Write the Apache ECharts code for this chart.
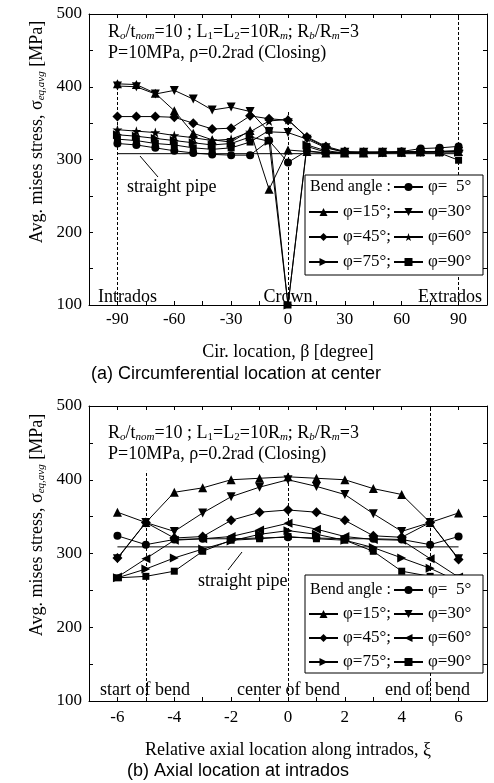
<!DOCTYPE html>
<html>
<head>
<meta charset="utf-8">
<script src="https://cdn.jsdelivr.net/npm/echarts@6/dist/echarts.min.js"></script>
<style>
html,body{margin:0;padding:0;background:#fff;}
#chart{width:494px;height:783px;}
</style>
</head>
<body>
<div id="chart"></div>
<script>
// (a) circumferential location at center
var betaDeg = [-90,-80,-70,-60,-50,-40,-30,-20,-10,0,10,20,30,40,50,60,70,80,90];
var a5  = [322,320,316,312,309,307,306,306,326,296,312,309,309,310,310,311,315,316,318];
var a15 = [404,403,391,367,336,327,324,340,259,313,311,309,309,309,310,310,311,311,311];
var a30 = [401,400,390,395,383,368,372,366,338,337,328,316,310,310,310,310,310,311,311];
var a45 = [359,359,359,358,350,342,343,360,356,354,331,318,311,310,310,310,311,311,312];
var a60 = [341,339,337,333,330,326,328,338,353,355,330,317,310,310,310,310,311,311,312];
var a75 = [334,332,329,326,323,320,322,331,325,100,320,312,309,309,309,310,310,310,310];
var a90 = [328,326,322,320,316,314,316,324,340,100,318,310,309,309,309,309,309,309,299];
var aPipeX = [-90,90];
var aPipe = [308,308];

// (b) axial location at intrados
var xi  = [-6,-5,-4,-3,-2,-1,0,1,2,3,4,5,6];
var b5  = [324,312,319,320,320,321,322,321,320,320,319,312,323];
var b15 = [356,342,383,389,400,402,404,402,400,388,380,342,355];
var b30 = [293,342,330,355,377,390,400,391,380,354,330,342,293];
var b45 = [294,342,321,323,345,356,359,356,345,324,322,342,292];
var b60 = [268,293,318,320,323,332,341,333,323,319,318,293,268];
var b75 = [267,279,294,306,317,326,331,326,318,308,294,280,262];
var b90 = [267,269,276,303,318,320,323,320,318,303,276,269,267];
var bPipeX = [-6,6];
var bPipe = [309,309];

var serif = 'Liberation Serif, Times New Roman, serif';
var sans = 'Liberation Sans, Arial, sans-serif';

var symDown = 'path://M0,0L10,0L5,9Z';
var symRight = 'path://M0,0L9,5L0,10Z';
var symLeft = 'path://M9,0L0,5L9,10Z';
var symStar = 'path://M5,0L6.2,3.6L10,3.6L6.9,5.9L8.1,9.5L5,7.3L1.9,9.5L3.1,5.9L0,3.6L3.8,3.6Z';

var names = {
  a5:'φ=  5°', a15:'φ=15°;', a30:'φ=30°', a45:'φ=45°;', a60:'φ=60°', a75:'φ=75°;', a90:'φ=90°',
  b5:'φ=  5°', b15:'φ=15°;', b30:'φ=30°', b45:'φ=45°;', b60:'φ=60°', b75:'φ=75°;', b90:'φ=90°'
};

function pairs(xs, ys){
  var out = [];
  for (var i = 0; i < xs.length; i++) out.push([xs[i], ys[i]]);
  return out;
}
function mk(name, xs, ys, sym, ax, size){
  return {
    name: name, type: 'line', xAxisIndex: ax, yAxisIndex: ax,
    data: pairs(xs, ys), symbol: sym, symbolSize: size || 8,
    lineStyle: {color: '#000', width: 1}, itemStyle: {color: '#000'},
    emphasis: {disabled: true}, z: 3
  };
}
function vline(x, y0, y1){
  return [{coord: [x, y0]}, {coord: [x, y1]}];
}
function pipe(xs, ys, ax, lines){
  return {
    name: 'pipe' + ax, type: 'line', xAxisIndex: ax, yAxisIndex: ax,
    data: pairs(xs, ys), symbol: 'none', lineStyle: {color: '#000', width: 1},
    z: 3, silent: true,
    markLine: {silent: true, symbol: ['none','none'], label: {show: false},
      lineStyle: {color: '#000', width: 1, type: [3,2]}, data: lines}
  };
}

function xAx(grid, min, max, step, labStep, name, margin, gap){
  return {
    type: 'value', gridIndex: grid, min: min, max: max, interval: step, position: 'bottom',
    axisLine: {onZero: false, lineStyle: {color: '#000', width: 1}},
    axisTick: {inside: true, length: 4, lineStyle: {color: '#000'}},
    axisLabel: {color: '#000', fontFamily: serif, fontSize: 17, margin: margin,
      formatter: function(v){ return (v % labStep === 0 && v > min && v < max) ? String(v) : ''; }},
    splitLine: {show: false},
    name: name, nameLocation: 'middle', nameGap: gap,
    nameTextStyle: {color: '#000', fontFamily: serif, fontSize: 18}
  };
}
function xTop(grid, min, max, step){
  return {
    type: 'value', gridIndex: grid, min: min, max: max, interval: step, position: 'top',
    axisLine: {onZero: false, lineStyle: {color: '#000', width: 1}},
    axisTick: {inside: true, length: 4, lineStyle: {color: '#000'}},
    axisLabel: {show: false}, splitLine: {show: false}
  };
}
function yAx(grid, pos, withLabels){
  return {
    type: 'value', gridIndex: grid, min: 100, max: 500, interval: 50, position: pos,
    axisLine: {show: true, onZero: false, lineStyle: {color: '#000', width: 1}},
    axisTick: {show: true, inside: true, length: 4, lineStyle: {color: '#000'}},
    axisLabel: {show: withLabels, color: '#000', fontFamily: serif, fontSize: 17, margin: 7,
      formatter: function(v){ return v % 100 === 0 ? String(v) : ''; }},
    splitLine: {show: false}
  };
}

function legendCol(left, top, data, gap){
  return {
    orient: 'vertical', left: left, top: top, padding: 0, itemWidth: 29, itemHeight: 10,
    itemGap: gap, selectedMode: false, data: data, z: 20,
    formatter: function(n){ return names[n]; },
    textStyle: {color: '#000', fontFamily: serif, fontSize: 17, lineHeight: 18}
  };
}

var paramText = 'R{i|o}/t{i|nom}=10 ; L{s|1}=L{s|2}=10R{i|m}; R{i|b}/R{i|m}=3';
var yTitle = 'Avg. mises stress, σ{i|eq,avg} [MPa]';
var subRich = {
  i: {fontFamily: serif, fontSize: 11, fontStyle: 'italic', verticalAlign: 'bottom', lineHeight: 8},
  s: {fontFamily: serif, fontSize: 11, verticalAlign: 'bottom', lineHeight: 8}
};
function txt(x, y, s, opts){
  opts = opts || {};
  var size = opts.size || 18;
  return {
    type: 'text', x: x, y: y, z: 30, silent: true, rotation: opts.rot || 0,
    style: {text: s, fill: '#000', fontSize: size, fontFamily: opts.family || serif,
      align: opts.align || 'left', verticalAlign: 'middle', rich: opts.rich, lineHeight: opts.lh}
  };
}
function seg(x1, y1, x2, y2){
  return {type: 'line', z: 30, silent: true, shape: {x1: x1, y1: y1, x2: x2, y2: y2},
    style: {stroke: '#000', lineWidth: 1}};
}
function box(x, y, w, h){
  return {type: 'rect', z: 15, silent: true, shape: {x: x, y: y, width: w, height: h},
    style: {fill: '#fff', stroke: '#000', lineWidth: 1}};
}

var chart = echarts.init(document.getElementById('chart'), null, {renderer: 'canvas'});
chart.setOption({
  animation: false,
  backgroundColor: '#fff',
  grid: [
    {left: 89, top: 14, width: 398, height: 291},
    {left: 89, top: 406, width: 398, height: 295}
  ],
  xAxis: [
    xAx(0, -105, 105, 15, 30, 'Cir. location, β [degree]', 6, 38),
    xAx(1, -7, 7, 1, 2, 'Relative axial location along intrados, ξ', 8, 40),
    xTop(0, -105, 105, 15),
    xTop(1, -7, 7, 1)
  ],
  yAxis: [yAx(0, 'left', true), yAx(1, 'left', true), yAx(0, 'right', false), yAx(1, 'right', false)],
  legend: [
    legendCol(393, 178, ['a5','a30','a60','a90'], 7),
    legendCol(308, 203, ['a15','a45','a75'], 7),
    legendCol(393, 581, ['b5','b30','b60','b90'], 6),
    legendCol(308, 605, ['b15','b45','b75'], 6)
  ],
  series: [
    pipe(aPipeX, aPipe, 0, [vline(-90, 100, 405), vline(0, 100, 366), vline(90, 100, 500)]),
    mk('a5', betaDeg, a5, 'circle', 0),
    mk('a15', betaDeg, a15, 'triangle', 0, 9),
    mk('a30', betaDeg, a30, symDown, 0, 9),
    mk('a45', betaDeg, a45, 'diamond', 0, 10),
    mk('a60', betaDeg, a60, symStar, 0, 10),
    mk('a75', betaDeg, a75, symRight, 0, 9),
    mk('a90', betaDeg, a90, 'rect', 0, 7),
    pipe(bPipeX, bPipe, 1, [vline(-5, 100, 412), vline(0, 100, 412), vline(5, 100, 500)]),
    mk('b5', xi, b5, 'circle', 1),
    mk('b15', xi, b15, 'triangle', 1, 9),
    mk('b30', xi, b30, symDown, 1, 9),
    mk('b45', xi, b45, 'diamond', 1, 10),
    mk('b60', xi, b60, symLeft, 1, 9),
    mk('b75', xi, b75, symRight, 1, 9),
    mk('b90', xi, b90, 'rect', 1, 7)
  ],
  graphic: [
    txt(37, 132, yTitle, {rich: subRich, lh: 20, rot: Math.PI / 2, align: 'center'}),
    box(305, 175, 178, 100),
    txt(310, 187, 'Bend angle :', {size: 16}),
    txt(108, 32, paramText, {rich: subRich, lh: 20}),
    txt(108, 53, 'P=10MPa, ρ=0.2rad (Closing)'),
    txt(127, 187, 'straight pipe'),
    seg(140, 156, 158, 177),
    txt(98, 297, 'Intrados'),
    txt(288, 297, 'Crown', {align: 'center'}),
    txt(482, 297, 'Extrados', {align: 'right'}),
    txt(236, 374, '(a) Circumferential location at center', {family: sans, size: 18, align: 'center'}),

    txt(37, 525, yTitle, {rich: subRich, lh: 20, rot: Math.PI / 2, align: 'center'}),
    box(305, 575, 178, 98),
    txt(310, 590, 'Bend angle :', {size: 16}),
    txt(108, 433, paramText, {rich: subRich, lh: 20}),
    txt(108, 454, 'P=10MPa, ρ=0.2rad (Closing)'),
    txt(198, 581, 'straight pipe'),
    seg(242, 552, 228, 570),
    txt(100, 690, 'start of bend'),
    txt(237, 690, 'center of bend'),
    txt(385, 690, 'end of bend'),
    txt(238, 771, '(b) Axial location at intrados', {family: sans, size: 18, align: 'center'})
  ]
});
</script>
</body>
</html>
